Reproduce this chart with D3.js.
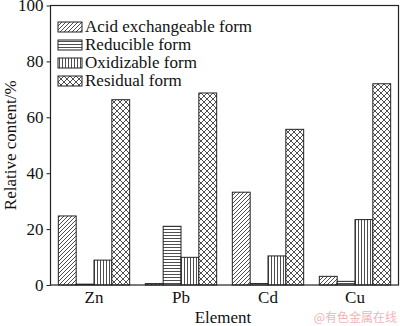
<!DOCTYPE html>
<html><head><meta charset="utf-8">
<script src="https://cdn.jsdelivr.net/npm/d3@7"></script>
<style>body{margin:0;background:#fff}svg{display:block}</style>
</head><body>
<svg id="c" width="400" height="326"></svg>
<script>
const categories = ["Zn", "Pb", "Cd", "Cu"];
const seriesNames = ["Acid exchangeable form", "Reducible form", "Oxidizable form", "Residual form"];
const acidValues = [24.7, 0.5, 33.2, 3.1];
const reducibleValues = [0.3, 21.0, 0.5, 1.3];
const oxidizableValues = [8.9, 9.9, 10.4, 23.4];
const residualValues = [66.3, 68.7, 55.7, 72.0];
const yTicks = [0, 20, 40, 60, 80, 100];
const seriesValues = [acidValues, reducibleValues, oxidizableValues, residualValues];

const svg = d3.select("#c");
const L = 50.5, R = 398.5, T = 5.5, B = 285;
const font = "'Liberation Serif','Times New Roman',serif";

const defs = svg.append("defs");
function pat(id, w, h, draw) {
  const p = defs.append("pattern").attr("id", id).attr("patternUnits", "userSpaceOnUse")
    .attr("width", w).attr("height", h);
  p.append("rect").attr("width", w).attr("height", h).attr("fill", "#fff");
  draw(p);
}
pat("p0", 4, 4, p => {
  p.append("path").attr("d", "M-1,5 L5,-1 M-1,1 L1,-1 M3,5 L5,3").attr("stroke", "#222").attr("stroke-width", 0.8);
});
pat("p1", 4, 3, p => {
  p.append("path").attr("d", "M0,1.5 H4").attr("stroke", "#222").attr("stroke-width", 0.8);
});
pat("p2", 3, 4, p => {
  p.append("path").attr("d", "M1.5,0 V4").attr("stroke", "#222").attr("stroke-width", 0.8);
});
pat("p3", 6, 6, p => {
  p.append("path").attr("d", "M0,0 L6,6 M6,0 L0,6").attr("stroke", "#222").attr("stroke-width", 0.8);
});

const x0 = d3.scaleBand().domain(categories).range([L, R]).paddingInner(0.18).paddingOuter(0.09);
const x1 = d3.scaleBand().domain(d3.range(4)).range([0, x0.bandwidth()]);
const y = d3.scaleLinear().domain([0, 100]).range([B, T]);

// bars
categories.forEach((c, ci) => {
  seriesValues.forEach((vals, si) => {
    const v = vals[ci];
    svg.append("rect")
      .attr("x", x0(c) + x1(si))
      .attr("y", y(v))
      .attr("width", x1.bandwidth())
      .attr("height", Math.max(0, B - y(v)))
      .attr("fill", `url(#p${si})`)
      .attr("stroke", "#222").attr("stroke-width", 1);
  });
});

// frame
svg.append("rect").attr("x", L).attr("y", T).attr("width", R - L).attr("height", B - T)
  .attr("fill", "none").attr("stroke", "#222").attr("stroke-width", 1.2);

// y axis
const yAxis = svg.append("g").attr("transform", `translate(${L},0)`)
  .call(d3.axisLeft(y).tickValues(yTicks).tickSize(4).tickPadding(3));
yAxis.select(".domain").remove();
yAxis.selectAll("line").attr("stroke", "#222");
yAxis.selectAll("text").attr("font-family", font).attr("font-size", 17).attr("fill", "#111");

// x axis labels
const xAxis = svg.append("g").attr("transform", `translate(0,${B})`)
  .call(d3.axisBottom(x0).tickSize(0).tickPadding(6));
xAxis.select(".domain").remove();
xAxis.selectAll("text").attr("font-family", font).attr("font-size", 17).attr("fill", "#111");

// axis titles
svg.append("text").attr("x", 223).attr("y", 323).attr("text-anchor", "middle")
  .attr("font-family", font).attr("font-size", 17).attr("fill", "#111").text("Element");
svg.append("text").attr("transform", `translate(16,${(T + B) / 2}) rotate(-90)`)
  .attr("text-anchor", "middle").attr("font-family", font).attr("font-size", 17).attr("fill", "#111")
  .text("Relative content/%");

// legend
const lg = svg.append("g").attr("transform", "translate(58,22)");
seriesNames.forEach((n, i) => {
  const g = lg.append("g").attr("transform", `translate(0,${i * 18})`);
  g.append("rect").attr("x", 0).attr("y", 0).attr("width", 24).attr("height", 10)
    .attr("fill", `url(#p${i})`).attr("stroke", "#222").attr("stroke-width", 1);
  g.append("text").attr("x", 27).attr("y", 10).attr("font-family", font).attr("font-size", 17)
    .attr("fill", "#111").text(n);
});

// watermark
svg.append("text").attr("x", 397).attr("y", 322).attr("text-anchor", "end")
  .attr("font-family", "'Noto Sans CJK SC',sans-serif").attr("font-size", 12)
  .attr("fill", "#f2b4b4").text("@有色金属在线");
</script>
</body></html>
